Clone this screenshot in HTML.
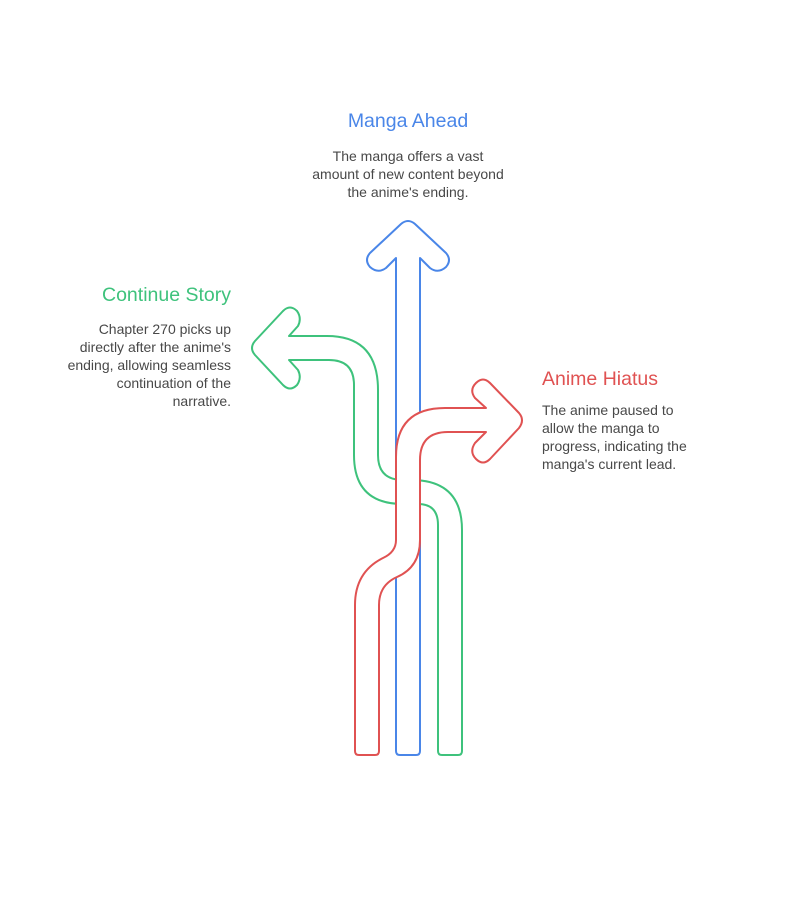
<!DOCTYPE html>
<html><head><meta charset="utf-8"><style>
body{margin:0;background:#fff;}
svg{display:block;font-family:"Liberation Sans",sans-serif;}
.b{font-size:14px;fill:#484848;}
.t{font-size:19.5px;}
</style></head><body>
<svg width="785" height="918" viewBox="0 0 785 918">
<rect width="785" height="918" fill="#fff"/>
<g fill="#fff" stroke-width="2" stroke-linejoin="round">
<path stroke="#3ec27c" d="M289 336 H327 Q378 336 378 390 V455 Q378 480 403 480 H413 Q462 481 462 530 V751 Q462 755 458 755 H442 Q438 755 438 751 V525 Q438 504 418 504 H403 Q354 504 354 455 V385 Q354 360 329 360 H289 L298 370 Q302 378 297 385 Q290 392 283 385 L255 355 Q249 348 255 341 L283 311 Q290 304 297 311 Q302 318 298 326 Z"/>
<path stroke="#4a86e8" d="M396 751 V258 L386 268 Q378 274 370 267 Q364 260 370 253 L401 224 Q408 218 415 224 L446 253 Q452 260 446 267 Q438 274 430 268 L420 258 V751 Q420 755 416 755 H400 Q396 755 396 751 Z"/>
<path stroke="#e05252" d="M379 751 V605 Q379 585 397 577 Q420 567 420 540 V460 Q420 432 448 432 H486 L475 443 Q469 452 476 459 Q483 466 490 459 L519 428 Q525 420 519 413 L490 383 Q483 376 476 383 Q469 390 475 398 L486 408 H445 Q396 408 396 457 V540 Q396 552 383 558 Q355 572 355 605 V751 Q355 755 359 755 H375 Q379 755 379 751 Z"/>
</g>
<text class="t" x="408" y="127" text-anchor="middle" fill="#4a86e8">Manga Ahead</text>
<g class="b" text-anchor="middle">
<text x="408" y="161">The manga offers a vast</text>
<text x="408" y="179">amount of new content beyond</text>
<text x="408" y="197">the anime's ending.</text>
</g>
<text class="t" x="231" y="301" text-anchor="end" fill="#3ec27c">Continue Story</text>
<g class="b" text-anchor="end">
<text x="231" y="334">Chapter 270 picks up</text>
<text x="231" y="352">directly after the anime's</text>
<text x="231" y="370">ending, allowing seamless</text>
<text x="231" y="388">continuation of the</text>
<text x="231" y="406">narrative.</text>
</g>
<text class="t" x="542" y="385" fill="#e05252">Anime Hiatus</text>
<g class="b">
<text x="542" y="415">The anime paused to</text>
<text x="542" y="433">allow the manga to</text>
<text x="542" y="451">progress, indicating the</text>
<text x="542" y="469">manga's current lead.</text>
</g>
</svg>
</body></html>
